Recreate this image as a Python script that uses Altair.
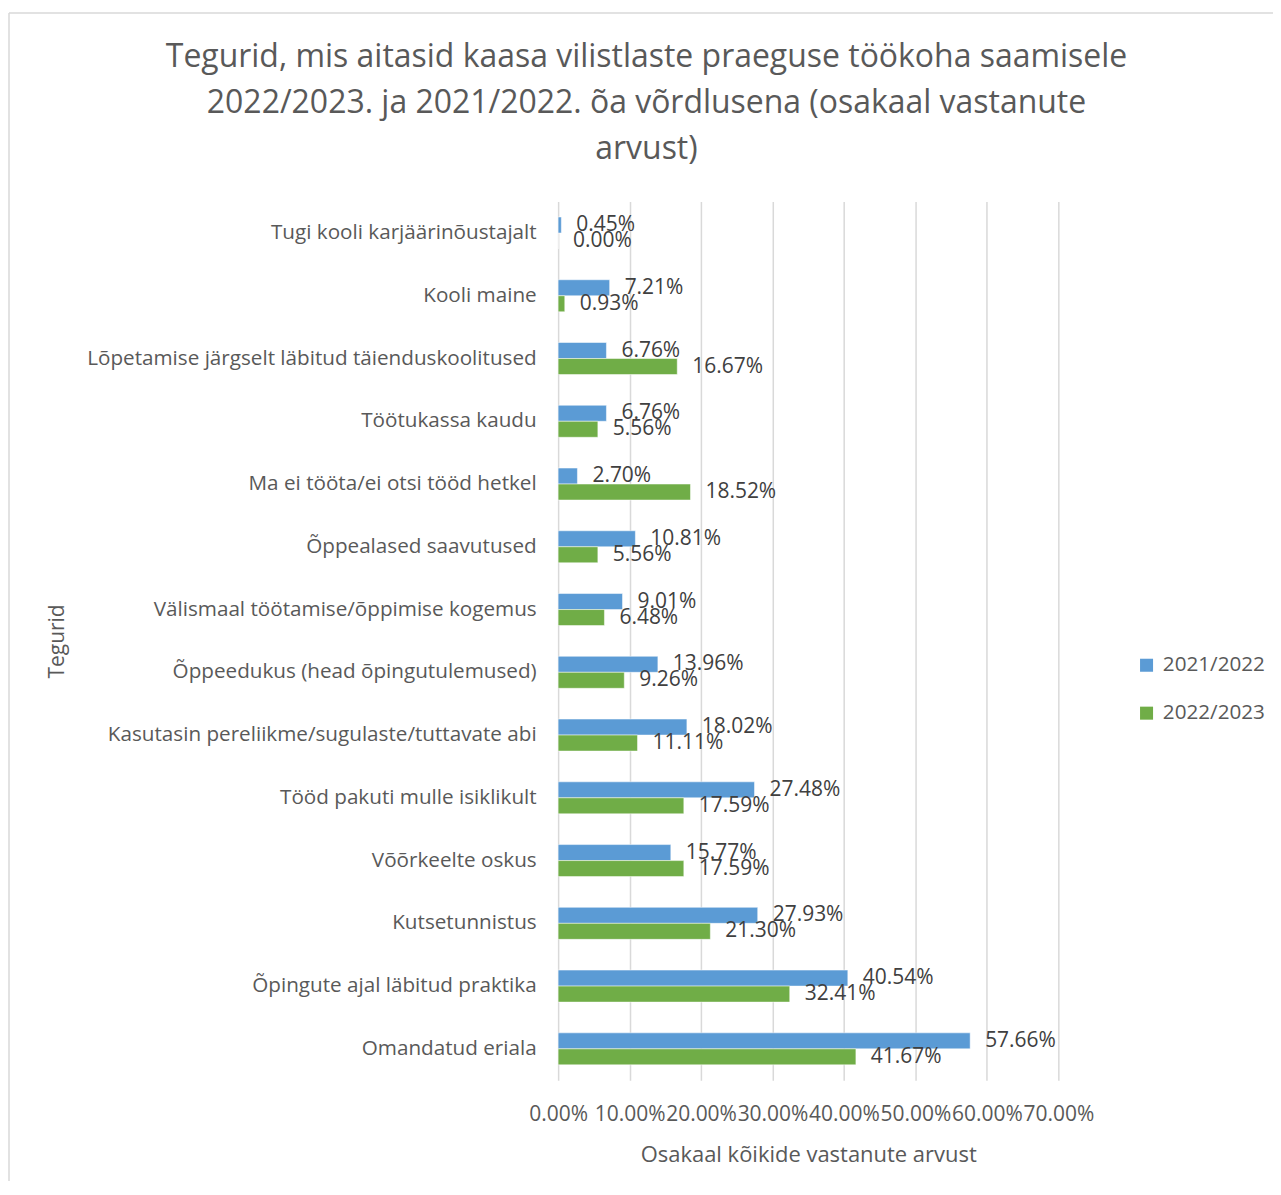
import altair as alt
import pandas as pd

categories = [
    "Tugi kooli karjäärinõustajalt",
    "Kooli maine",
    "Lõpetamise järgselt läbitud täienduskoolitused",
    "Töötukassa kaudu",
    "Ma ei tööta/ei otsi tööd hetkel",
    "Õppealased saavutused",
    "Välismaal töötamise/õppimise kogemus",
    "Õppeedukus (head õpingutulemused)",
    "Kasutasin pereliikme/sugulaste/tuttavate abi",
    "Tööd pakuti mulle isiklikult",
    "Võõrkeelte oskus",
    "Kutsetunnistus",
    "Õpingute ajal läbitud praktika",
    "Omandatud eriala",
]
series = ["2021/2022", "2022/2023"]
values_2021 = [0.45, 7.21, 6.76, 6.76, 2.70, 10.81, 9.01, 13.96, 18.02, 27.48, 15.77, 27.93, 40.54, 57.66]
values_2022 = [0.00, 0.93, 16.67, 5.56, 18.52, 5.56, 6.48, 9.26, 11.11, 17.59, 17.59, 21.30, 32.41, 41.67]
colors = ["#5B9BD5", "#70AD47"]

rows = []
for c, a, b in zip(categories, values_2021, values_2022):
    rows.append({"cat": c, "series": series[0], "val": a / 100})
    rows.append({"cat": c, "series": series[1], "val": b / 100})
df = pd.DataFrame(rows)

FONT = "Open Sans"
TXT = "#595959"
FS = 21

y_enc = alt.Y("cat:N", sort=categories,
              scale=alt.Scale(paddingInner=0.49, paddingOuter=0.245),
              axis=alt.Axis(title="Tegurid", labelFontSize=FS - 0.3, labelColor=TXT, labelFont=FONT,
                            labelPadding=22, ticks=False, domain=False, grid=False,
                            titleFontSize=FS, titleColor=TXT, titleFont=FONT, titleFontWeight="normal",
                            titleX=-501, titleY=440, titleAngle=-90, titleAlign="center",
                            titleBaseline="middle", labelLimit=600))
yoff = alt.YOffset("series:N", sort=series, scale=alt.Scale(paddingInner=0, paddingOuter=0))

base = alt.Chart(df)
bars = base.mark_bar(stroke="white", strokeWidth=0.5).encode(
    x=alt.X("val:Q", scale=alt.Scale(domain=[0, 0.7], nice=False),
            axis=alt.Axis(format=".2%", values=[0, 0.1, 0.2, 0.3, 0.4, 0.5, 0.6, 0.7],
                          title="Osakaal kõikide vastanute arvust",
                          labelFontSize=FS, labelColor=TXT, labelFont=FONT, labelPadding=23,
                          labelOverlap=False, labelFlush=False,
                          ticks=False, domain=False, grid=True, gridColor="#d9d9d9", gridWidth=1.5,
                          titleFontSize=FS + 1, titleColor=TXT, titleFont=FONT, titleFontWeight="normal",
                          titlePadding=20)),
    y=y_enc,
    yOffset=yoff,
    color=alt.Color("series:N", sort=series, scale=alt.Scale(domain=series, range=colors),
                    legend=alt.Legend(title=None, orient="none", legendX=579, legendY=454,
                                      symbolType="square", symbolSize=170, symbolStrokeWidth=0,
                                      labelFontSize=FS - 0.3, labelColor=TXT, labelFont=FONT,
                                      rowPadding=26, labelOffset=6)),
)
labels = base.mark_text(align="left", dx=15, fontSize=FS, font=FONT, color="#404040").encode(
    x="val:Q",
    y=alt.Y("cat:N", sort=categories),
    yOffset=yoff,
    text=alt.Text("val:Q", format=".2%"),
)

# light chart-area border (left and top edges)
frame_df = pd.DataFrame({"k": [0]})
frame_left = alt.Chart(frame_df).mark_rule(color="#d9d9d9", strokeWidth=1.5, clip=False).encode(
    x=alt.value(-550), y=alt.value(-189), y2=alt.value(1200))
frame_top = alt.Chart(frame_df).mark_rule(color="#d9d9d9", strokeWidth=1.5, clip=False).encode(
    x=alt.value(-550), x2=alt.value(800), y=alt.value(-189))

chart = alt.layer(bars, labels, frame_left, frame_top).properties(
    width=501, height=880,
    autosize=alt.AutoSizeParams(type="none"),
    padding={"left": 551, "top": 193, "right": 215, "bottom": 100},
    title=alt.TitleParams(
        text=["Tegurid, mis aitasid kaasa vilistlaste praeguse töökoha saamisele",
              "2022/2023. ja 2021/2022. õa võrdlusena (osakaal vastanute",
              "arvust)"],
        fontSize=32, font=FONT, color=TXT, fontWeight="normal", anchor="middle",
        dx=-162, lineHeight=46, offset=-154),
).configure_view(stroke=None)

chart.save("out.html", embed_options={"renderer": "svg", "actions": False})
